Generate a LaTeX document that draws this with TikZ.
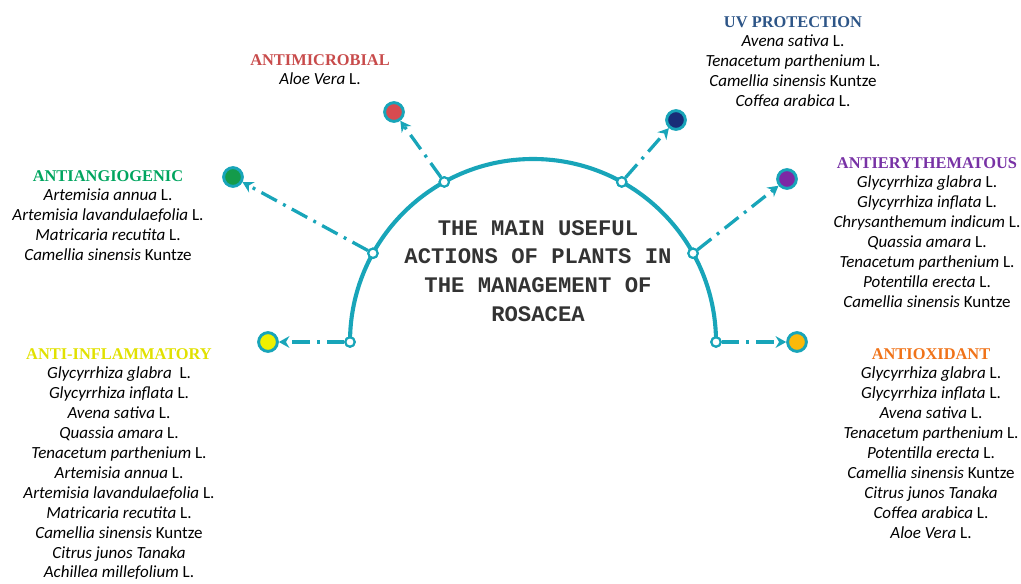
\documentclass[tikz,border=0pt]{standalone}
\usepackage{fontspec}
\setmainfont{Carlito}
\newfontfamily\headfont{Liberation Serif}
\newfontfamily\titlefont{Liberation Mono}
\usetikzlibrary{positioning}
\usetikzlibrary{calc}
\usetikzlibrary{arrows.meta}
\definecolor{arcteal}{RGB}{24,165,185}
\definecolor{microbred}{RGB}{200,75,75}
\definecolor{uvblue}{RGB}{45,85,135}
\definecolor{angiogreen}{RGB}{0,165,95}
\definecolor{erythpurple}{RGB}{120,50,165}
\definecolor{oxorange}{RGB}{240,115,25}
\definecolor{inflyellow}{RGB}{225,225,0}
\definecolor{dotgreen}{RGB}{20,155,75}
\definecolor{dotred}{RGB}{215,75,80}
\definecolor{dotnavy}{RGB}{25,45,120}
\definecolor{dotpurple}{RGB}{125,40,165}
\definecolor{dotorange}{RGB}{250,185,10}
\definecolor{dotyellow}{RGB}{240,240,0}
\tikzset{
	x=0.03cm, y=-0.03cm,
	arcline/.style={draw=arcteal, line width=3.5pt},
	hub/.style={circle, draw=arcteal, fill=white, line width=1.8pt, minimum size=8pt, inner sep=0pt},
	dot/.style={circle, draw=arcteal, line width=2.5pt, minimum size=16pt, inner sep=0pt, fill=#1},
	link/.style={draw=arcteal, line width=2.8pt, dash pattern=on 15pt off 6pt on 2.5pt off 6pt, -{Stealth[length=9pt,width=10pt]}},
	head/.style={font=\headfont\bfseries\fontsize{14}{16}\selectfont, text=#1, inner sep=1pt},
	plants/.style={font=\fontsize{14.5}{17}\selectfont, align=center, inner sep=1pt, below=4pt of #1}
}

\begin{document}
\begin{tikzpicture}
	\useasboundingbox (0,0) rectangle (1021,583);
	% Arc and hubs
	\coordinate (c) at (533,342);
	\foreach \a in {180,151,119,61,29,0}
		\node (p\a) [hub] at ($(c)+(-\a:183)$) {};
	\draw[arcline] (p180.center) arc[start angle=180, end angle=0, radius=5.49cm];
	\foreach \a in {180,151,119,61,29,0}
		\node [hub] at (p\a) {};
	
	% Title
	\node (title) at (538,271) [font=\titlefont\bfseries\fontsize{19}{24.6}\selectfont, text=black!80, align=center]
		{THE MAIN USEFUL\\ACTIONS OF PLANTS IN\\THE MANAGEMENT OF\\ROSACEA};
	
	% Dots
	\node (angio) [dot=dotgreen] at (233,177) {};
	\node (microb) [dot=dotred] at (394,112) {};
	\node (uv) [dot=dotnavy] at (676,120) {};
	\node (eryth) [dot=dotpurple] at (787,179) {};
	\node (oxid) [dot=dotorange] at (797,342) {};
	\node (infl) [dot=dotyellow] at (268,342) {};
	
	\draw[link] (p151) -- (angio);
	\draw[link] (p119) -- (microb);
	\draw[link] (p61) -- (uv);
	\draw[link] (p29) -- (eryth);
	\draw[link] (p0) -- (oxid);
	\draw[link] (p180) -- (infl);
	
	% Headings and plants
	\node (microb_h) [head=microbred] at (320,60) {ANTIMICROBIAL};
	\node (microb_l) [plants=microb_h] {\textit{Aloe Vera} L.};
	
	\node (uv_h) [head=uvblue] at (793,22) {UV PROTECTION};
	\node (uv_l) [plants=uv_h] {\textit{Avena sativa} L.\\\textit{Tenacetum parthenium} L.\\\textit{Camellia sinensis} Kuntze\\\textit{Coffea arabica} L.};
	
	\node (angio_h) [head=angiogreen] at (108,176) {ANTIANGIOGENIC};
	\node (angio_l) [plants=angio_h] {\textit{Artemisia annua} L.\\\textit{Artemisia lavandulaefolia} L.\\\textit{Matricaria recutita} L.\\\textit{Camellia sinensis} Kuntze};
	
	\node (eryth_h) [head=erythpurple] at (927,163) {ANTIERYTHEMATOUS};
	\node (eryth_l) [plants=eryth_h] {\textit{Glycyrrhiza glabra} L.\\\textit{Glycyrrhiza inflata} L.\\\textit{Chrysanthemum indicum} L.\\\textit{Quassia amara} L.\\\textit{Tenacetum parthenium} L.\\\textit{Potentilla erecta} L.\\\textit{Camellia sinensis} Kuntze};
	
	\node (oxid_h) [head=oxorange] at (931,354) {ANTIOXIDANT};
	\node (oxid_l) [plants=oxid_h] {\textit{Glycyrrhiza glabra} L.\\\textit{Glycyrrhiza inflata} L.\\\textit{Avena sativa} L.\\\textit{Tenacetum parthenium} L.\\\textit{Potentilla erecta} L.\\\textit{Camellia sinensis} Kuntze\\\textit{Citrus junos Tanaka}\\\textit{Coffea arabica} L.\\\textit{Aloe Vera} L.};
	
	\node (infl_h) [head=inflyellow] at (119,354) {ANTI-INFLAMMATORY};
	\node (infl_l) [plants=infl_h] {\textit{Glycyrrhiza glabra}~ L.\\\textit{Glycyrrhiza inflata} L.\\\textit{Avena sativa} L.\\\textit{Quassia amara} L.\\\textit{Tenacetum parthenium} L.\\\textit{Artemisia annua} L.\\\textit{Artemisia lavandulaefolia} L.\\\textit{Matricaria recutita} L.\\\textit{Camellia sinensis} Kuntze\\\textit{Citrus junos Tanaka}\\\textit{Achillea millefolium} L.};
\end{tikzpicture}
\end{document}
